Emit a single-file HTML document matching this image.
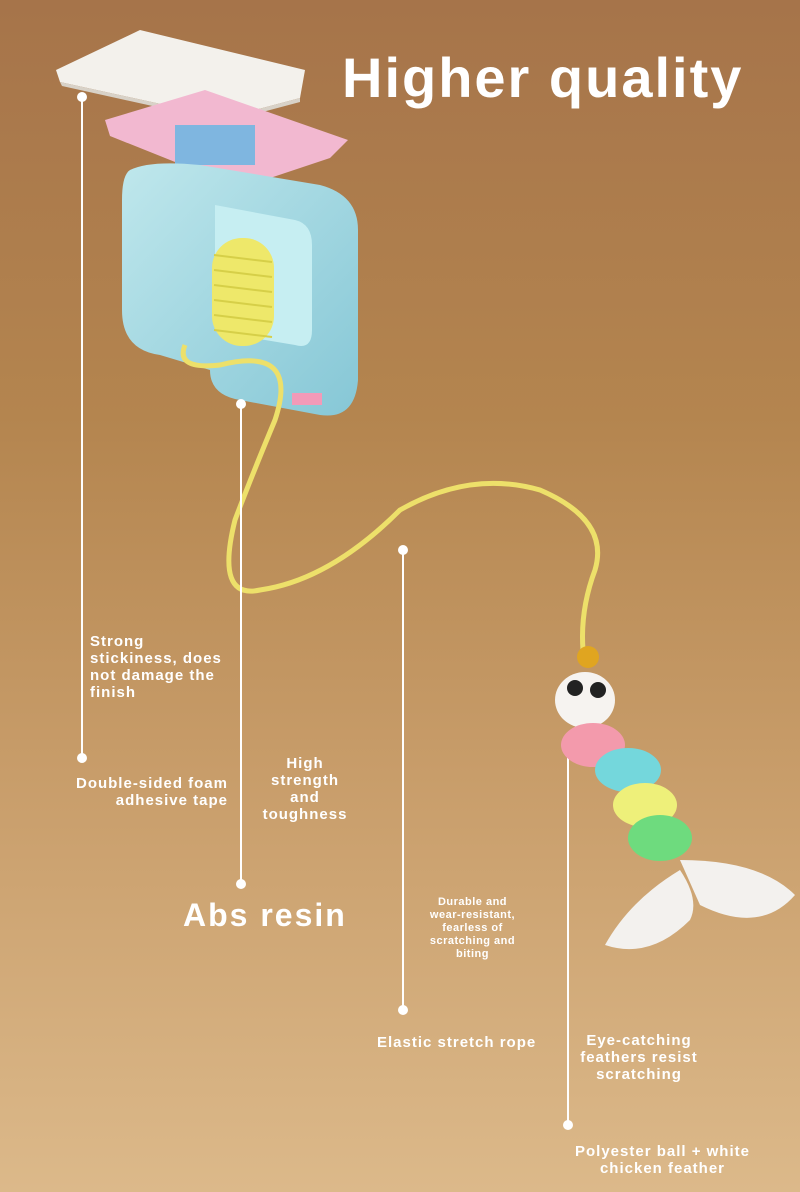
<!DOCTYPE html>
<html><head><meta charset="utf-8"><style>
html,body{margin:0;padding:0}
body{width:800px;height:1192px;position:relative;overflow:hidden;
background:linear-gradient(180deg,#a6744a 0%,#b4854f 35%,#c89d6a 65%,#dcb98a 100%);
font-family:"Liberation Sans",sans-serif;color:#fff;font-weight:bold}
.t{position:absolute;line-height:17px;font-size:15px;letter-spacing:1px}
</style></head><body>
<svg width="800" height="1192" style="position:absolute;left:0;top:0">
<defs>
<linearGradient id="bl" x1="0" y1="0" x2="1" y2="1"><stop offset="0" stop-color="#bfe7ec"/><stop offset="1" stop-color="#86c7d6"/></linearGradient>
</defs>
<polygon points="56,70 140,30 305,70 300,98 225,118 60,82" fill="#f3f1ec"/>
<polygon points="60,82 225,118 300,98 300,102 225,122 62,86" fill="#d8d2c8"/>
<polygon points="105,120 205,90 348,140 330,158 240,188 110,136" fill="#f2b8d0"/>
<rect x="175" y="125" width="80" height="40" fill="#7fb6e0"/>
<path d="M130,170 Q150,160 200,165 L320,185 Q358,195 358,230 L358,380 Q355,420 320,415 L240,400 Q210,395 210,370 L160,355 Q122,350 122,310 L122,200 Q122,175 130,170Z" fill="url(#bl)"/>
<path d="M215,205 L295,220 Q312,224 312,245 L312,330 Q312,350 295,345 L235,335 Q215,330 215,310Z" fill="#c6eef2"/>
<rect x="292" y="393" width="30" height="12" fill="#f29ab8"/>
<rect x="212" y="238" width="62" height="108" rx="30" fill="#eee86a"/>
<g stroke="#d6cf48" stroke-width="2"><line x1="214" y1="255" x2="272" y2="262"/><line x1="214" y1="270" x2="272" y2="277"/><line x1="214" y1="285" x2="272" y2="292"/><line x1="214" y1="300" x2="272" y2="307"/><line x1="214" y1="315" x2="272" y2="322"/><line x1="214" y1="330" x2="272" y2="337"/></g>
<path d="M185,345 Q175,370 220,365 Q300,345 275,420 Q250,480 235,520 Q215,600 260,590 Q330,580 400,510 Q470,470 540,490 Q610,520 595,570 Q580,610 583,650" fill="none" stroke="#ede06a" stroke-width="5"/>
<g stroke="#fff" stroke-width="2"><line x1="82" y1="97" x2="82" y2="758"/><line x1="241" y1="404" x2="241" y2="884"/><line x1="403" y1="550" x2="403" y2="1010"/><line x1="568" y1="740" x2="568" y2="1125"/></g>
<g fill="#fff"><circle cx="82" cy="97" r="5"/><circle cx="82" cy="758" r="5"/><circle cx="241" cy="404" r="5"/><circle cx="241" cy="884" r="5"/><circle cx="403" cy="550" r="5"/><circle cx="403" cy="1010" r="5"/><circle cx="568" cy="1125" r="5"/></g>
<circle cx="588" cy="657" r="11" fill="#e0a520"/>
<ellipse cx="585" cy="700" rx="30" ry="28" fill="#f6f3f0"/>
<circle cx="575" cy="688" r="8" fill="#222"/><circle cx="598" cy="690" r="8" fill="#222"/>
<ellipse cx="593" cy="745" rx="32" ry="22" fill="#f39aac"/>
<ellipse cx="628" cy="770" rx="33" ry="22" fill="#74d7dc"/>
<ellipse cx="645" cy="805" rx="32" ry="22" fill="#eef07a"/>
<ellipse cx="660" cy="838" rx="32" ry="23" fill="#6edb7e"/>
<path d="M680,860 Q760,860 795,895 Q760,935 700,905 Z" fill="#f3f1ee"/>
<path d="M680,870 Q700,900 690,920 Q650,960 605,945 Q630,900 680,870Z" fill="#f3f1ee"/>
</svg>
<div class="t" style="left:342px;top:46px;font-size:56px;line-height:64px;letter-spacing:2px">Higher quality</div>
<div class="t" style="left:90px;top:633px">Strong<br>stickiness, does<br>not damage the<br>finish</div>
<div class="t" style="left:30px;top:775px;width:198px;text-align:right">Double-sided foam<br>adhesive tape</div>
<div class="t" style="left:235px;top:755px;width:140px;text-align:center">High<br>strength<br>and<br>toughness</div>
<div class="t" style="left:183px;top:895px;font-size:32px;line-height:40px;letter-spacing:2px">Abs resin</div>
<div class="t" style="left:395px;top:896px;width:155px;text-align:center;font-size:11px;line-height:13px;letter-spacing:0.5px">Durable and<br>wear-resistant,<br>fearless of<br>scratching and<br>biting</div>
<div class="t" style="left:377px;top:1034px">Elastic stretch rope</div>
<div class="t" style="left:555px;top:1032px;width:168px;text-align:center">Eye-catching<br>feathers resist<br>scratching</div>
<div class="t" style="left:560px;top:1143px;width:205px;text-align:center">Polyester ball + white<br>chicken feather</div>
</body></html>
